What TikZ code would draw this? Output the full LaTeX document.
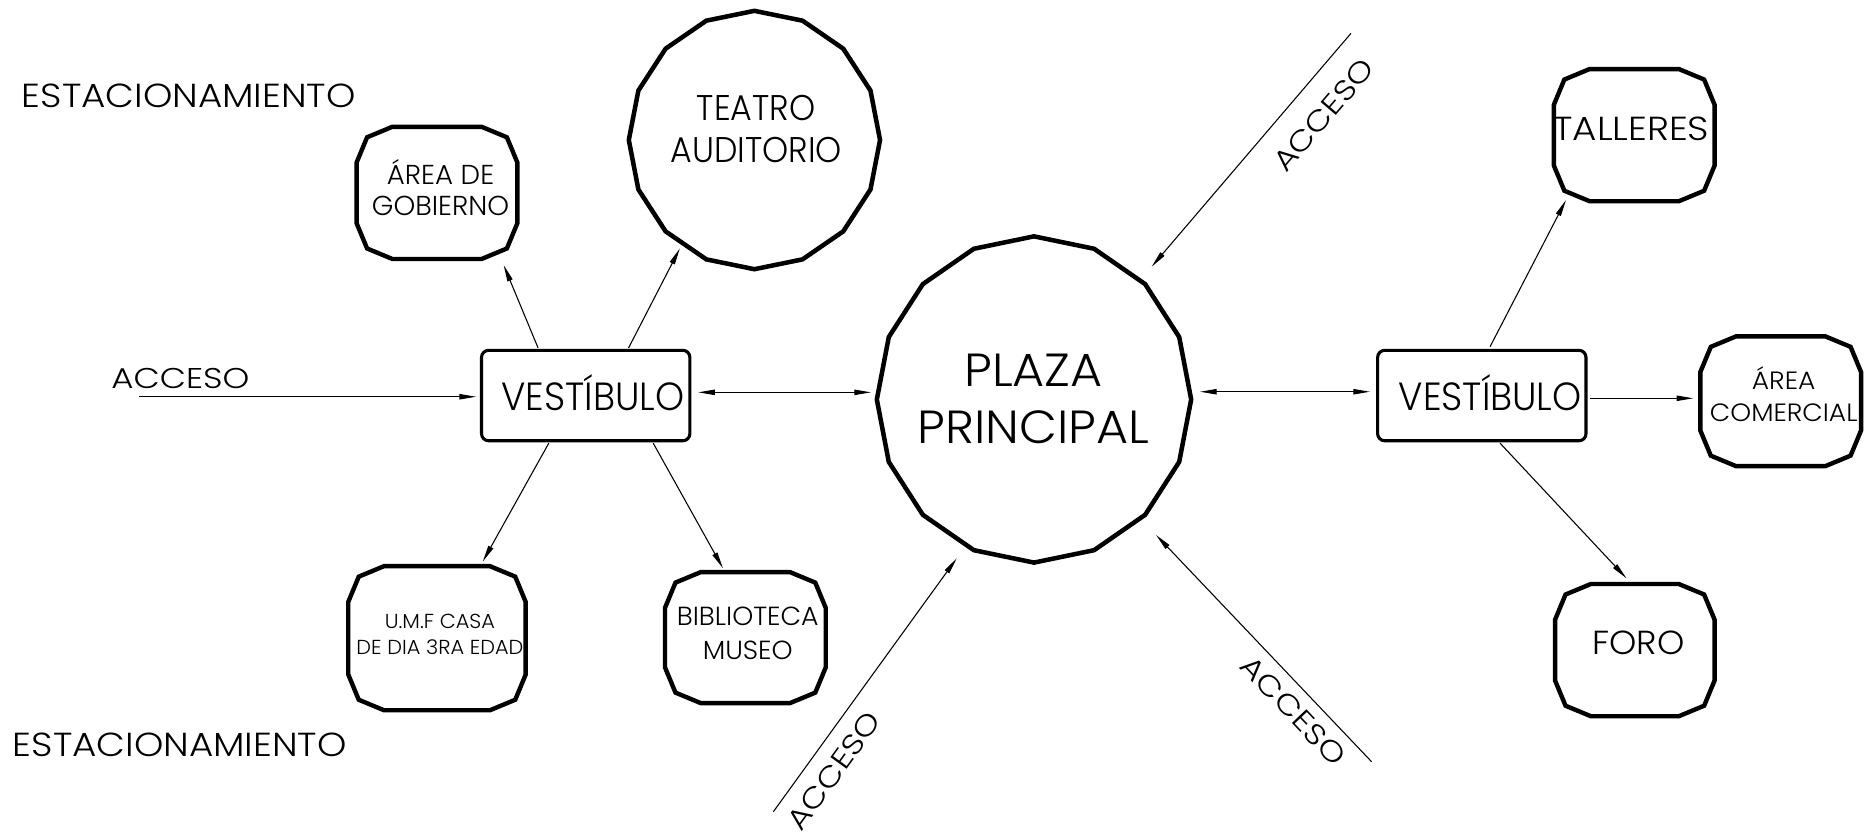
\documentclass[tikz,border=0pt]{standalone}
\usepackage{fontspec}
\IfFontExistsTF{Poppins Light}{\setmainfont{Poppins Light}}{\setmainfont{Poppins}}
\usetikzlibrary{arrows.meta,calc}
\newcommand{\roombox}[1]{%
  \draw[roomline] let \p1=(#1.south west), \p2=(#1.north east) in
   ({\x1+30pt},\y2) -- ({\x2-30pt},\y2) -- ({\x2-8.8pt},{\y2-8.8pt}) -- (\x2,{\y2-30pt})
   -- (\x2,{\y1+30pt}) -- ({\x2-8.8pt},{\y1+8.8pt}) -- ({\x2-30pt},\y1)
   -- ({\x1+30pt},\y1) -- ({\x1+8.8pt},{\y1+8.8pt}) -- (\x1,{\y1+30pt})
   -- (\x1,{\y2-30pt}) -- ({\x1+8.8pt},{\y2-8.8pt}) -- cycle;}
\newcommand{\sixteengon}[3]{%
  \draw[poly] ($(#1.center)+(90:#2 and #3)$)
   \foreach \k in {1,...,15} { -- ($(#1.center)+({90+22.5*\k}:#2 and #3)$) } -- cycle;}
\newcommand{\fs}[3]{\fontsize{#1}{#2}\selectfont\addfontfeature{FakeStretch=#3}}
\begin{document}
\begin{tikzpicture}[x=1pt,y=-1pt,
  poly/.style={line width=3.8pt, line join=miter},
  room/.style={draw=none, inner sep=0pt, outer sep=0pt},
  roomline/.style={line width=3.7pt, line join=miter},
  vest/.style={draw, line width=2.6pt, rounded corners=6pt, inner sep=0pt, outer sep=0pt},
  tip/.tip={Triangle[length=14pt,width=4.5pt]},
  conn/.style={line width=0.9pt, -tip},
  dconn/.style={line width=0.9pt, tip-tip},
  txt/.style={inner sep=0pt, outer sep=0pt, align=center},
  acc/.style={txt, font=\fs{24}{28}{1.19}},
]
\useasboundingbox (0,0) rectangle (1568,703);

% ---- rooms ----
\node[room, minimum width=135pt, minimum height=111pt] (gob) at (367,162) {};
\roombox{gob}
\node[txt, font=\fs{23}{26}{1.01}] (gobt) at (370,160) {\smash{Á}REA DE\\GOBIERNO};

\node[room, minimum width=211pt, minimum height=217pt] (teat) at (633.6,117.6) {};
\sixteengon{teat}{105.5}{108.5}
\node[txt, font=\fs{30}{35}{0.93}] (teatt) at (635,108.5) {TEATRO\\AUDITORIO};

\node[vest, minimum width=175pt, minimum height=76pt] (lv) at (491.9,332.2) {};
\node[txt, font=\fs{33}{38}{0.94}] (lvt) at (498,333) {VEST\smash{Í}BULO};

\node[room, minimum width=264pt, minimum height=274pt] (pz) at (868.4,335.5) {};
\sixteengon{pz}{132}{137}
\node[txt, font=\fs{39}{48}{1.06}] (pzt) at (868,335) {PLAZA\\PRINCIPAL};

\node[vest, minimum width=175pt, minimum height=76pt] (rv) at (1244.5,332.2) {};
\node[txt, font=\fs{33}{38}{0.94}] (rvt) at (1251.5,333) {VEST\smash{Í}BULO};

\node[room, minimum width=135pt, minimum height=111pt] (tal) at (1372.5,113.5) {};
\roombox{tal}
\node[txt, font=\fs{28}{32}{1.12}] (talt) at (1370,108) {TALLERES};

\node[room, minimum width=135pt, minimum height=109pt] (com) at (1495.5,337) {};
\roombox{com}
\node[txt, font=\fs{21}{27}{1.06}] (comt) at (1498,333.5) {\smash{Á}REA\\COMERCIAL};

\node[room, minimum width=134pt, minimum height=111pt] (foro) at (1373,546) {};
\roombox{foro}
\node[txt, font=\fs{28}{32}{1.04}] (forot) at (1376,540) {FORO};

\node[room, minimum width=149pt, minimum height=121pt] (umf) at (367,536) {};
\roombox{umf}
\node[txt, font=\fs{17}{22}{1.03}] (umft) at (369.5,533) {U.M.F CASA\\DE DIA 3RA EDAD};

\node[room, minimum width=135pt, minimum height=110pt] (bib) at (626,535.5) {};
\roombox{bib}
\node[txt, font=\fs{22}{28}{1.02}] (bibt) at (628,532) {BIBLIOTECA\\MUSEO};

% ---- free texts ----
\node[txt, font=\fs{28}{32}{1.12}] (est1) at (158.6,80.5) {ESTACIONAMIENTO};
\node[txt, font=\fs{28}{32}{1.12}] (est2) at (151,625.7) {ESTACIONAMIENTO};

% ---- connectors ----
\draw[conn] ($(lv)+(-40,-40)$) -- ($(gob)+(56,60.6)$);
\draw[conn] ($(lv)+(36,-40)$) -- ($(teat)+(-62.6,91)$);
\draw[conn] ($(lv)+(-31,40)$) -- ($(umf)+(38.4,-64.3)$);
\draw[conn] ($(lv)+(56.7,40)$) -- ($(bib)+(-18.8,-58.2)$);
\draw[dconn] ($(lv)+(94.5,-2.7)$) -- ($(pz)+(-136.9,-6)$);
\draw[dconn] ($(pz)+(139.4,-6.5)$) -- ($(rv)+(-93.9,-3.2)$);
\draw[conn] ($(rv)+(6.9,-41)$) -- ($(tal)+(-57.3,54.5)$);
\draw[conn] ($(rv)+(90.9,2.3)$) -- ($(com)+(-73.4,-2.5)$);
\draw[conn] ($(rv)+(15.3,40)$) -- ($(foro)+(-7,-60.3)$);

% ---- accesses ----
\coordinate (accL) at (117,333.2);
\draw[conn] (accL) -- ($(lv.west)+(-4.5,1)$);
\node[acc] (accLt) at (151.5,317.5) {ACCESO};

\coordinate (accTR) at (1134.6,28);
\draw[conn] (accTR) -- node[acc, sloped, below=18.5pt, pos=0.26] (accTRt) {ACCESO} ($(pz)+(98.8,-111.5)$);

\coordinate (accBL) at (649.5,681.7);
\draw[conn] (accBL) -- node[acc, sloped, below=12.5pt, pos=0.22] (accBLt) {ACCESO} ($(pz)+(-64.9,133.4)$);

\coordinate (accBR) at (1151.9,639.7);
\draw[conn] (accBR) -- node[acc, sloped, below=9.5pt, pos=0.29] (accBRt) {ACCESO} ($(pz)+(102.5,113.8)$);
\end{tikzpicture}
\end{document}
